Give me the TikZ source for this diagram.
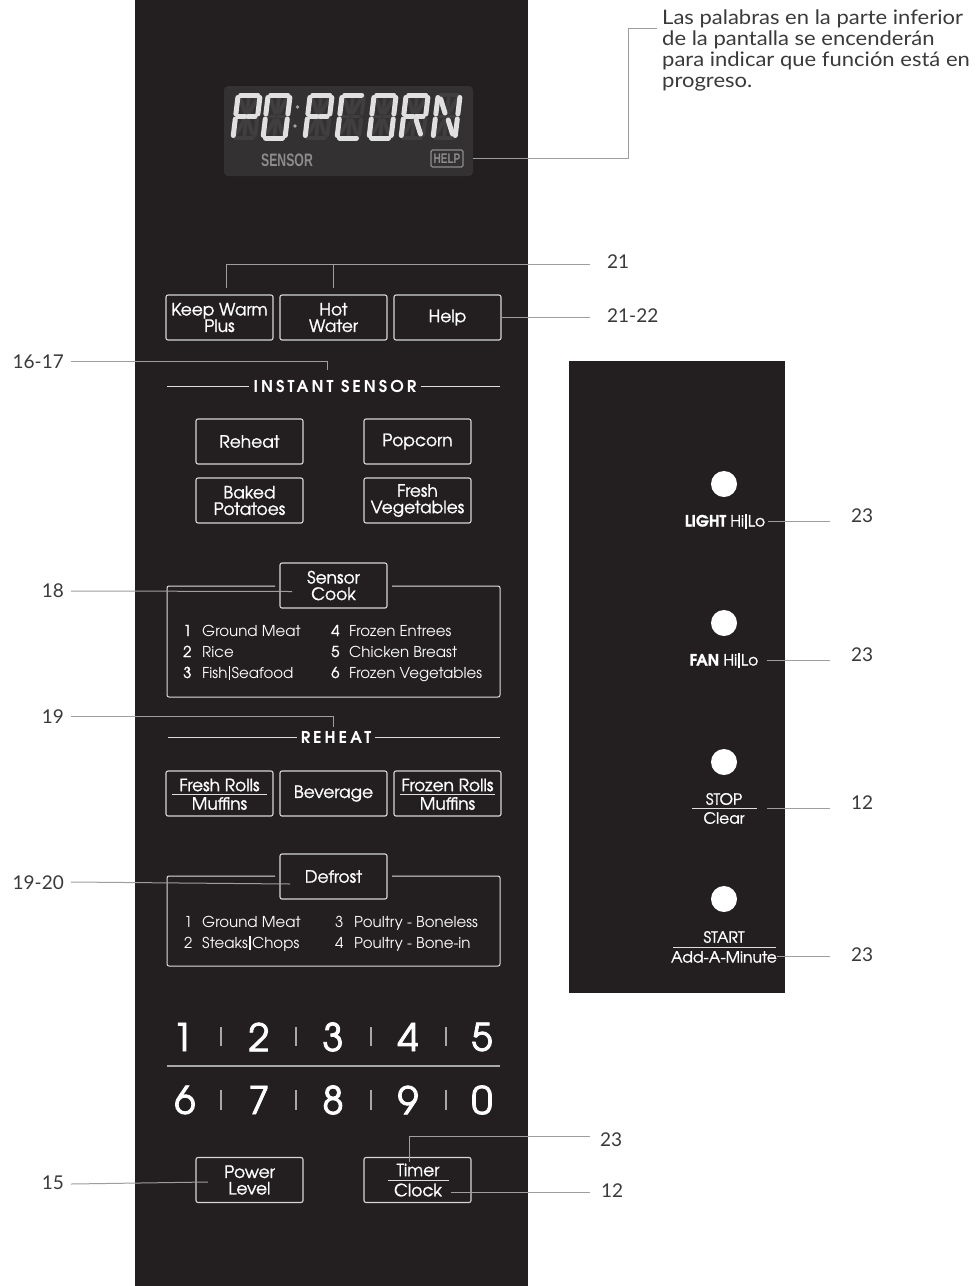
\documentclass[tikz,border=0pt]{standalone}
\usepackage{fontspec}
\usepackage{graphicx}
\newfontfamily\lato{Lato}
\newfontfamily\latow{Lato}[FakeStretch=1.1]
\newfontfamily\arial{Liberation Sans}
\newfontfamily\ag{texgyreadventor}[Extension=.otf, UprightFont=*-regular, BoldFont=*-bold, ItalicFont=*-italic, BoldItalicFont=*-bolditalic]
\newfontfamily\agm{texgyreadventor}[Extension=.otf, UprightFont=*-regular, BoldFont=*-bold, FakeBold=1.2, ItalicFont=*-italic, BoldItalicFont=*-bolditalic]
\newfontfamily\agd{texgyreadventor}[Extension=.otf, UprightFont=*-regular, BoldFont=*-bold, FakeBold=2.2, ItalicFont=*-italic, BoldItalicFont=*-bolditalic]
\definecolor{panel}{HTML}{231F20}
\definecolor{disp}{HTML}{333132}
\definecolor{btnline}{HTML}{D6D6D6}
\definecolor{pline}{HTML}{DDDDDD}
\definecolor{callc}{HTML}{9E9E9E}
\definecolor{lab}{HTML}{3A3A3A}
\definecolor{segon}{HTML}{E0E0E0}
\definecolor{segoff}{HTML}{403E3F}
\definecolor{dgray}{HTML}{8C8C8C}
\definecolor{sepc}{HTML}{A8A8A8}
\newcommand\btnfont{\agm\fontsize{17}{16.5}\selectfont}
\tikzset{
  btn/.style={draw=btnline, line width=1.1pt, rounded corners=2pt, minimum width=107pt, minimum height=45pt, inner sep=0pt, text=white, align=center, font=\btnfont},
  ptxt/.style={text=white, inner sep=0pt, font=\btnfont},
  rtxt/.style={text=white, inner sep=0pt, font=\agm\fontsize{15.5}{15.5}\selectfont},
  lst/.style={text=white, inner sep=0pt, font=\ag\fontsize{15}{18}\selectfont, anchor=base west},
  lstn/.style={text=white, inner sep=0pt, font=\agm\fontsize{15}{18}\selectfont, anchor=base west},
  lbl/.style={text=lab, inner sep=0pt, font=\lato\fontsize{19}{21}\selectfont},
  call/.style={draw=callc, line width=1pt},
  pl/.style={draw=pline, line width=1pt},
  hdr/.style={text=white, inner sep=4pt, font=\ag\bfseries\fontsize{16.3}{16}\selectfont\addfontfeature{LetterSpace=18}},
  digit/.style={text=white, inner sep=0pt, font=\agd\fontsize{38}{38}\selectfont},
  sepl/.style={draw=sepc, line width=1.3pt},
  dotbtn/.style={circle, fill=white, minimum size=26pt, inner sep=0pt},
  segon/.style={draw=segon, line width=5pt, line cap=round},
  segoff/.style={draw=segoff, line width=3.8pt, line cap=round},
  sga/.style={insert path={(2.5,43)--(19.5,43)}},
  sgb/.style={insert path={(22,40.5)--(22,24)}},
  sgc/.style={insert path={(22,19)--(22,2.5)}},
  sgd/.style={insert path={(2.5,0)--(19.5,0)}},
  sge/.style={insert path={(0,2.5)--(0,19)}},
  sgf/.style={insert path={(0,24)--(0,40.5)}},
  sgg/.style={insert path={(2.5,21.5)--(9.5,21.5)}},
  sgp/.style={insert path={(12.5,21.5)--(19.5,21.5)}},
  sgh/.style={insert path={(3,39)--(9,25)}},
  sgi/.style={insert path={(11,40)--(11,25)}},
  sgj/.style={insert path={(19,39)--(13,25)}},
  sgk/.style={insert path={(9,18)--(3,4)}},
  sgl/.style={insert path={(11,18)--(11,3)}},
  sgm/.style={insert path={(13,18)--(19,4)}},
}
\newcommand\glyph[2]{%
  \begin{scope}[shift={(#1,138)}, xslant=0.12, yscale=-1]
    \foreach \s in {a,b,c,d,e,f,g,p,h,i,j,k,l,m} {\draw[segoff, sg\s];}
    \foreach \s in {#2} {\draw[segon, sg\s];}
  \end{scope}}
\begin{document}
\begin{tikzpicture}[x=1pt, y=-1pt]
\useasboundingbox (0,0) rectangle (976,1286);
\fill[white] (0,0) rectangle (976,1286);
\fill[panel] (135,0) rectangle (528,1286);
\fill[panel] (569,361) rectangle (785,993);
% display
\fill[disp, rounded corners=4pt] (224,86) rectangle (473,176);
\glyph{233}{a,b,f,e,g,p}
\glyph{263}{a,b,c,d,e,f}
\glyph{305}{a,b,f,e,g,p}
\glyph{337}{a,f,e,d}
\glyph{369}{a,b,c,d,e,f}
\glyph{401}{a,b,f,e,g,p,m}
\glyph{433}{f,e,b,c,h,m}
\fill[dgray!80!white] (297.5,107) circle (1.9);
\fill[dgray!80!white] (295,126) circle (1.9);
\node[text=dgray, inner sep=0pt] (sensor) at (287,160) {\arial\bfseries\fontsize{18}{18}\selectfont\scalebox{0.68}[1]{SENSOR}};
\node[draw=dgray, line width=1.1pt, rounded corners=1.5pt, minimum width=32pt, minimum height=17pt, inner sep=0pt, text=dgray] (helpbox) at (447,158.5) {\arial\bfseries\fontsize{14}{14}\selectfont\scalebox{0.72}[1]{HELP}};
% description
\node[anchor=north west, text=lab, inner sep=0pt, align=left, font=\latow\fontsize{20}{21}\selectfont] (desc) at (662,10) {Las palabras en la parte inferior\\de la pantalla se encenderán\\para indicar que función está en\\progreso.};
\coordinate (dj) at (628,28);
\coordinate (de) at (657,28);
\draw[call] ([xshift=9pt]helpbox.east) -| (dj) -- (de);
% top buttons
\node[btn] (kw) at (219.5,317.5) {Keep Warm\\Plus};
\node[btn] (hw) at (333.5,317.5) {Hot\\Water};
\node[btn] (help) at (447.5,317.5) {Help};
\node[lbl, anchor=west] (l21) at (607,262) {21};
\node[lbl, anchor=west] (l2122) at (607,316) {21-22};
\draw[call] ([xshift=6.5pt, yshift=6pt]kw.north) |- ([xshift=-17pt, yshift=-2pt]l21.west);
\draw[call] ([yshift=6pt]hw.north) -- (hw.north |- kw.north |- 0,264);
\draw[call] (help.east) -- ([xshift=-17pt]l2122.west |- help.east);
% instant sensor
\node[hdr] (ishead) at (335,386) {INSTANT SENSOR};
\draw[pl] (167,386) -- (ishead.west);
\draw[pl] (ishead.east) -- (500,386);
\node[lbl, anchor=east] (l1617) at (64,362) {16-17};
\coordinate (isT) at (327,370);
\draw[call] ([xshift=7pt, yshift=0.5pt]l1617.east) -| (isT);
\node[btn] (reheat) at (249.5,441.5) {Reheat};
\node[btn] (popcorn) at (417.5,441.5) {Popcorn};
\node[btn] (baked) at (249.5,500.5) {Baked\\Potatoes};
\node[btn] (freshveg) at (417.5,500.5) {Fresh\\Vegetables};
% sensor cook
\draw[pl, rounded corners=2pt] (275,586) -- (167,586) -- (167,697) -- (500,697) -- (500,586) -- (392,586);
\node[btn] (sc) at (333.5,585.5) {Sensor\\Cook};
\node[lbl, anchor=east] (l18) at (64,591) {18};
\coordinate (c18) at (292,591.5);
\draw[call] ([xshift=7pt]l18.east) -- (c18);
\node[lstn] (s1n) at (183,636) {1};
\node[lst] (s1) at (202,636) {Ground Meat};
\node[lstn] (s2n) at (183,657) {2};
\node[lst] (s2) at (202,657) {Rice};
\node[lstn] (s3n) at (183,678) {3};
\node[lst] (s3) at (202,678) {Fish\hspace{1.5pt}\rule[-1.5pt]{1.2pt}{14pt}\hspace{1.5pt}Seafood};
\node[lstn] (s4n) at (331,636) {4};
\node[lst] (s4) at (349,636) {Frozen Entrees};
\node[lstn] (s5n) at (331,657) {5};
\node[lst] (s5) at (349,657) {Chicken Breast};
\node[lstn] (s6n) at (331,678) {6};
\node[lst] (s6) at (349,678) {Frozen Vegetables};
% reheat
\node[hdr] (rhhead) at (336,737) {REHEAT};
\draw[pl] (168,737) -- (rhhead.west);
\draw[pl] (rhhead.east) -- (500,737);
\node[lbl, anchor=east] (l19) at (64,717) {19};
\coordinate (rhT) at (333,727);
\draw[call] ([xshift=7pt, yshift=1pt]l19.east) -| (rhT);
\node[btn] (fr) at (219.5,793.5) {};
\node[ptxt] (frt) at (219.5,785) {Fresh Rolls};
\draw[pl] (172,794) -- (267,794);
\node[ptxt] (frb) at (219.5,803.5) {Muffins};
\node[btn] (bev) at (333.5,793.5) {Beverage};
\node[btn] (fz) at (447.5,793.5) {};
\node[ptxt] (fzt) at (447.5,785) {Frozen Rolls};
\draw[pl] (400,794) -- (495,794);
\node[ptxt] (fzb) at (447.5,803.5) {Muffins};
% defrost
\draw[pl, rounded corners=2pt] (275,876) -- (167,876) -- (167,966) -- (500,966) -- (500,876) -- (392,876);
\node[btn] (df) at (333.5,876.5) {Defrost};
\node[lbl, anchor=east] (l1920) at (64,883) {19-20};
\coordinate (c1920) at (290,884);
\draw[call] ([xshift=7pt, yshift=1pt]l1920.east) -- (c1920);
\node[lst] (d1n) at (184,927) {1};
\node[lst] (d1) at (202,927) {Ground Meat};
\node[lst] (d2n) at (184,948) {2};
\node[lst] (d2) at (202,948) {Steaks\hspace{1.5pt}\rule[-1.5pt]{1.2pt}{14pt}\hspace{1.5pt}Chops};
\node[lst] (d3n) at (335,927) {3};
\node[lst] (d3) at (354,927) {Poultry - Boneless};
\node[lst] (d4n) at (335,948) {4};
\node[lst] (d4) at (354,948) {Poultry - Bone-in};
% keypad
\foreach \d/\x in {1/183,2/259,3/333,4/408,5/482} \node[digit] (k\d) at (\x,1037) {\d};
\foreach \d/\x in {6/185,7/259,8/333,9/408,0/482} \node[digit] (k\d) at (\x,1100) {\d};
\foreach \x in {221,296,371,446} {\draw[sepl] (\x,1027) -- (\x,1046); \draw[sepl] (\x,1090) -- (\x,1110);}
\draw[sepl, line width=1.2pt] (167,1066) -- (500,1066);
% power / timer
\node[btn] (pw) at (249.5,1180) {Power\\Level};
\node[lbl, anchor=east] (l15) at (64,1183) {15};
\coordinate (c15) at (208,1182);
\draw[call] ([xshift=7pt, yshift=-1pt]l15.east) -- (c15);
\node[btn] (tc) at (417.5,1180) {};
\node[ptxt] (tct) at (418,1170) {Timer};
\draw[pl] (388,1180) -- (449,1180);
\node[ptxt] (tcb) at (418,1190) {Clock};
\node[lbl, anchor=west] (l23t) at (600,1140) {23};
\node[lbl, anchor=west] (l12t) at (601,1191) {12};
\coordinate (t23) at (409,1162);
\draw[call] (t23) |- ([xshift=-10pt, yshift=4pt]l23t.west);
\coordinate (t12) at (451,1192);
\draw[call] (t12) -- ([xshift=-11pt]l12t.west |- t12);
% right panel
\node[dotbtn] (lightb) at (724,484) {};
\node[dotbtn] (fanb) at (724,623) {};
\node[dotbtn] (stopb) at (724,762) {};
\node[dotbtn] (startb) at (724,899) {};
\node[rtxt] (lt) at (725,521) {{\bfseries LIGHT} Hi\hspace{1pt}\rule[-2pt]{1.8pt}{15pt}\hspace{1pt}Lo};
\node[rtxt] (fan) at (724,660) {{\bfseries FAN} Hi\hspace{1pt}\rule[-2pt]{1.8pt}{15pt}\hspace{1pt}Lo};
\node[rtxt] (stop) at (724,799) {STOP};
\draw[pl] (692,808) -- (757,808);
\node[rtxt] (clear) at (724,818) {Clear};
\node[rtxt] (start) at (724,937) {START};
\draw[pl] (673,947) -- (776,947);
\node[rtxt] (aam) at (724,957) {Add-A-Minute};
\node[lbl, anchor=west] (r23a) at (851,516) {23};
\node[lbl, anchor=west] (r23b) at (851,655) {23};
\node[lbl, anchor=west] (r12) at (851,803) {12};
\node[lbl, anchor=west] (r23c) at (851,955) {23};
\draw[call] ([xshift=3pt]lt.east) -- ([xshift=-21pt]r23a.west |- lt.east);
\draw[call] ([xshift=8pt]fan.east) -- ([xshift=-21pt]r23b.west |- fan.east);
\coordinate (stc) at (767,808);
\draw[call] (stc) -- ([xshift=-21pt]r12.west |- stc);
\draw[call] ([yshift=1pt]aam.east) -- ([xshift=-21pt, yshift=1pt]r23c.west |- aam.east);
\end{tikzpicture}
\end{document}
